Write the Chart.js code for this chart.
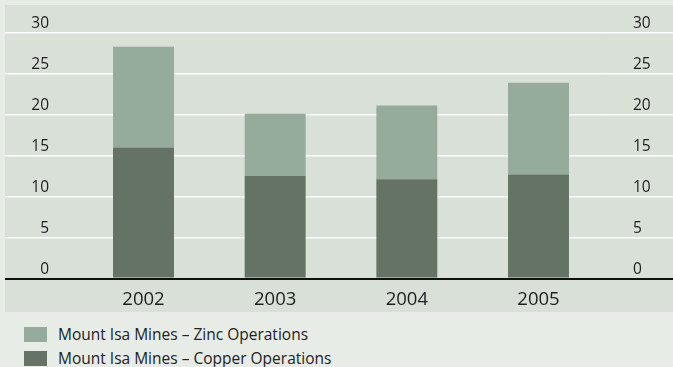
<!DOCTYPE html>
<html>
<head>
<meta charset="utf-8">
<script src="https://cdn.jsdelivr.net/npm/chart.js@4"></script>
<style>
  html, body { margin: 0; padding: 0; background: #e8ece7; }
  body { width: 673px; height: 367px; overflow: hidden; position: relative; font-family: 'Open Sans', sans-serif; }
  #panel { position: absolute; left: 5px; top: 5px; width: 668px; height: 307px; background: #d9e0d8; }
  #legend { position: absolute; left: 24px; top: 322px; }
  .item { display: flex; align-items: center; height: 24px; font-size: 15.5px; color: #222; }
  .swatch { width: 23px; height: 15px; margin-right: 11px; }
</style>
</head>
<body>
<div id="panel"><canvas id="chart"></canvas></div>
<div id="legend"></div>
<script>
// values (Mt, approx.)
const years = ['2002', '2003', '2004', '2005'];
const copperOps = [16.0, 12.5, 12.1, 12.7];
const zincOps = [12.3, 7.6, 9.0, 11.2];
const seriesNames = ['Mount Isa Mines – Copper Operations', 'Mount Isa Mines – Zinc Operations'];
const yMin = 0, yMax = 30, yStep = 5;

const COPPER = '#647364';
const ZINC = '#95ab9b';
const INK = '#1e1e1e';

// gridline look: white rules, black baseline at zero
const gridColor = ctx => (ctx.tick && ctx.tick.value === 0 ? '#111' : '#ffffff');
const gridWidth = ctx => (ctx.tick && ctx.tick.value === 0 ? 2 : 1.5);

const chart = new Chart(document.getElementById('chart'), {
  type: 'bar',
  data: {
    labels: years,
    datasets: [
      { label: seriesNames[0], data: copperOps, backgroundColor: COPPER },
      { label: seriesNames[1], data: zincOps, backgroundColor: ZINC },
    ],
  },
  options: {
    responsive: true,
    maintainAspectRatio: false,
    animation: false,
    layout: { padding: { top: 27.7, left: 0, right: 0, bottom: 0 } },
    datasets: { bar: { barPercentage: 0.463, categoryPercentage: 1 } },
    plugins: { legend: { display: false }, tooltip: { enabled: false } },
    scales: {
      x: {
        stacked: true,
        grid: { display: false },
        border: { display: false },
        ticks: { color: INK, padding: 2.5, font: { family: 'Open Sans', size: 18.5 } },
        afterFit: s => { s.height = 33.5; },
      },
      y: {
        stacked: true,
        position: 'left',
        min: yMin, max: yMax,
        border: { display: false },
        grid: { color: gridColor, lineWidth: gridWidth, drawTicks: true, tickLength: 72.67 },
        ticks: { stepSize: yStep, color: INK, padding: -44, labelOffset: -9, font: { family: 'Open Sans', size: 15.5 } },
        afterFit: s => { s.width = 72.67; },
      },
      y2: {
        position: 'right',
        min: yMin, max: yMax,
        border: { display: false },
        grid: { color: gridColor, lineWidth: gridWidth, drawOnChartArea: false, drawTicks: true, tickLength: 68.67 },
        ticks: { stepSize: yStep, color: INK, padding: -40, labelOffset: -9, font: { family: 'Open Sans', size: 15.5 } },
        afterFit: s => { s.width = 68.67; },
      },
    },
  },
});

// html legend below the panel, zinc first like the original
const items = Chart.defaults.plugins.legend.labels.generateLabels(chart).reverse();
document.getElementById('legend').innerHTML = items.map(it =>
  `<div class="item"><span class="swatch" style="background:${it.fillStyle}"></span>${it.text}</div>`
).join('');
</script>
</body>
</html>
